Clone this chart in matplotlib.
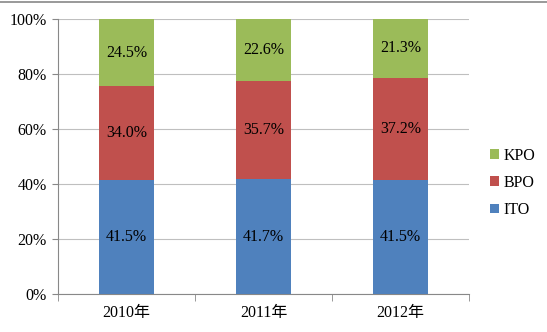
import matplotlib
import matplotlib.pyplot as plt
import numpy as np
from matplotlib.lines import Line2D

matplotlib.use('Agg')

plt.rcParams['font.family'] = ['Liberation Serif', 'Noto Sans CJK SC']
plt.rcParams['font.size'] = 11.5

years = ['2010年', '2011年', '2012年']
ito = [41.5, 41.7, 41.5]
bpo = [34.0, 35.7, 37.2]
kpo = [24.5, 22.6, 21.3]
series_names = ['ITO', 'BPO', 'KPO']
colors = ['#4F81BD', '#C0504D', '#9BBB59']

fig = plt.figure(figsize=(5.47, 3.32), dpi=100)
ax = fig.add_axes([58 / 547, 38 / 332, 411 / 547, 275 / 332])

x = np.arange(len(years))
bottom = np.zeros(len(years))
handles = []
for name, vals, col in zip(series_names, [ito, bpo, kpo], colors):
    vals = np.array(vals)
    bars = ax.bar(x, vals, 0.4, bottom=bottom, color=col, label=name, zorder=3)
    for xi, b, v in zip(x, bottom, vals):
        ax.text(xi, b + v / 2, f'{v:.1f}%', ha='center', va='center',
                fontsize=11.5, color='black', zorder=4)
    bottom += vals
    handles.append(bars)

ax.set_xlim(-0.5, 2.5)
ax.set_ylim(0, 100)
ax.set_yticks(np.arange(0, 101, 20))
ax.set_yticklabels([f'{v}%' for v in range(0, 101, 20)], fontsize=11.5)
ax.set_xticks(x)
ax.set_xticklabels(years, fontsize=11.5)
ax.set_xticks([-0.5, 0.5, 1.5, 2.5], minor=True)
ax.tick_params(axis='x', which='major', length=0, pad=8)
ax.tick_params(axis='x', which='minor', length=5, color='#888888', direction='out')
ax.tick_params(axis='y', length=4, color='#888888', direction='out', pad=4)

ax.grid(axis='y', color='#BFBFBF', linewidth=0.8, zorder=0)
for side in ['top', 'right']:
    ax.spines[side].set_visible(False)
for side in ['left', 'bottom']:
    ax.spines[side].set_color('#888888')

leg = ax.legend(handles[::-1], series_names[::-1], loc='center left',
                bbox_to_anchor=(1.035, 0.404), frameon=False, fontsize=11.5,
                handlelength=0.55, handleheight=0.55, handletextpad=0.3,
                labelspacing=0.7, borderaxespad=0)

fig.add_artist(Line2D([0, 1], [1 - 2 / 332, 1 - 2 / 332], color='#888888',
                      linewidth=1.2, transform=fig.transFigure))

fig.savefig('out.png', dpi=100)
